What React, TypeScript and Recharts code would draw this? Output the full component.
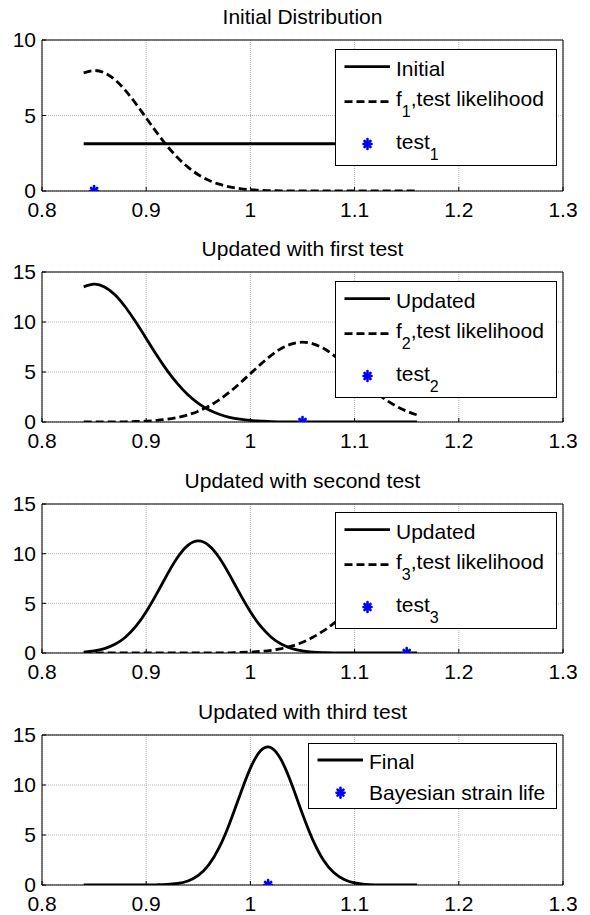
import React from 'react';
import { ComposedChart, Line, Scatter, XAxis, YAxis, CartesianGrid, Legend } from 'recharts';

// strain-life grid (x) shared by all four panels
const xs = [
  0.84, 0.85, 0.86, 0.87, 0.88, 0.89, 0.9, 0.91, 0.92, 0.93, 0.94,
  0.95, 0.96, 0.97, 0.98, 0.99, 1.0, 1.01, 1.02, 1.03, 1.04, 1.05,
  1.06, 1.07, 1.08, 1.09, 1.1, 1.11, 1.12, 1.13, 1.14, 1.15, 1.16,
];

const initialPdf = [
  3.13, 3.13, 3.13, 3.13, 3.13, 3.13, 3.13, 3.13, 3.13, 3.13, 3.13,
  3.13, 3.13, 3.13, 3.13, 3.13, 3.13, 3.13, 3.13, 3.13, 3.13, 3.13,
  3.13, 3.13, 3.13, 3.13, 3.13, 3.13, 3.13, 3.13, 3.13, 3.13, 3.13,
];
const f1 = [
  7.82, 7.98, 7.82, 7.37, 6.66, 5.79, 4.84, 3.88, 2.99, 2.22, 1.58,
  1.08, 0.71, 0.45, 0.27, 0.16, 0.09, 0.05, 0.02, 0.01, 0, 0,
  0, 0, 0, 0, 0, 0, 0, 0, 0, 0, 0,
];
const post1 = [
  13.51, 13.78, 13.51, 12.73, 11.5, 10.0, 8.36, 6.7, 5.16, 3.83, 2.73,
  1.87, 1.23, 0.78, 0.47, 0.28, 0.16, 0.09, 0.03, 0.02, 0, 0,
  0, 0, 0, 0, 0, 0, 0, 0, 0, 0, 0,
];
const f2 = [
  0, 0, 0.01, 0.01, 0.02, 0.05, 0.09, 0.16, 0.27, 0.45, 0.71,
  1.08, 1.58, 2.22, 2.99, 3.88, 4.84, 5.79, 6.66, 7.37, 7.82, 7.98,
  7.82, 7.37, 6.66, 5.79, 4.84, 3.88, 2.99, 2.22, 1.58, 1.08, 0.71,
];
const post2 = [
  0.09, 0.21, 0.44, 0.87, 1.59, 2.67, 4.15, 5.95, 7.87, 9.61, 10.84,
  11.28, 10.84, 9.61, 7.87, 5.95, 4.15, 2.67, 1.59, 0.87, 0.44, 0.21,
  0.09, 0.04, 0.01, 0, 0, 0, 0, 0, 0, 0, 0,
];
const f3 = [
  0, 0, 0, 0, 0, 0, 0, 0, 0, 0, 0,
  0, 0, 0.01, 0.02, 0.05, 0.09, 0.16, 0.27, 0.45, 0.71, 1.08,
  1.58, 2.22, 2.99, 3.88, 4.84, 5.79, 6.66, 7.37, 7.82, 7.98, 7.82,
];
const finalPdf = [
  0, 0, 0, 0, 0, 0, 0, 0.02, 0.05, 0.15, 0.4,
  0.96, 2.01, 3.73, 6.16, 9.01, 11.69, 13.45, 13.73, 12.43, 9.98, 7.1,
  4.49, 2.51, 1.25, 0.55, 0.21, 0.07, 0.02, 0, 0, 0, 0,
];

const test1 = [{ x: 0.85, y: 0 }];
const test2 = [{ x: 1.05, y: 0 }];
const test3 = [{ x: 1.15, y: 0 }];
const bayesLife = [{ x: 1.017, y: 0 }];

const xTicks = [0.8, 0.9, 1, 1.1, 1.2, 1.3];
const yTicks10 = [0, 5, 10];
const yTicks15 = [0, 5, 10, 15];

const FONT = '"Liberation Sans", Arial, Helvetica, sans-serif';
const BLUE = '#0000ff';

const Star = (props: any) => {
  const { cx, cy } = props;
  if (cx == null || cy == null) return null;
  return (
    <g stroke={BLUE} strokeWidth={2.6} strokeLinecap="round">
      <line x1={cx - 4} y1={cy} x2={cx + 4} y2={cy} />
      <line x1={cx} y1={cy - 5} x2={cx} y2={cy + 5} />
      <line x1={cx - 3} y1={cy - 3} x2={cx + 3} y2={cy + 3} />
      <line x1={cx - 3} y1={cy + 3} x2={cx + 3} y2={cy - 3} />
    </g>
  );
};

type Item = { kind: 'solid' | 'dashed' | 'star'; text: string; sub?: string; rest?: string };

const ROWS3 = { lineY: [17.7, 52.7, 95], base: [27, 57, 100] };
const ROWS2 = { lineY: [17, 49.7], base: [26, 57] };

const LegendBox = ({ w, h, items }: { w: number; h: number; items: Item[] }) => {
  const rows = items.length === 3 ? ROWS3 : ROWS2;
  return (
    <svg width={w} height={h} style={{ display: 'block', fontFamily: FONT }}>
      <rect x={0.5} y={0.5} width={w - 1} height={h - 1} fill="#fff" stroke="#000" />
      {items.map((it, i) => {
        const ly = rows.lineY[i];
        return (
          <g key={i}>
            {it.kind === 'star' ? (
              <Star cx={32.5} cy={ly} />
            ) : (
              <line
                x1={9.5}
                x2={55}
                y1={ly}
                y2={ly}
                stroke="#000"
                strokeWidth={2.8}
                strokeDasharray={it.kind === 'dashed' ? '8 4' : undefined}
              />
            )}
            <text x={61} y={rows.base[i]} fontSize={21} fill="#000">
              {it.text}
              {it.sub && (
                <tspan fontSize={16} dy={11}>
                  {it.sub}
                </tspan>
              )}
              {it.rest && (
                <tspan fontSize={21} dy={-11}>
                  {it.rest}
                </tspan>
              )}
            </text>
          </g>
        );
      })}
    </svg>
  );
};

const panels = [
  {
    title: 'Initial Distribution',
    top: 0, h: 230, mTop: 39, mBottom: 9, plotTop: 40,
    yMax: 10, yTicks: yTicks10,
    solid: initialPdf, dashed: f1, point: test1,
    legend: { left: 335, top: 49, w: 222, h: 117 },
    items: [
      { kind: 'solid', text: 'Initial' },
      { kind: 'dashed', text: 'f', sub: '1', rest: ',test likelihood' },
      { kind: 'star', text: 'test', sub: '1' },
    ] as Item[],
  },
  {
    title: 'Updated with first test',
    top: 230, h: 230, mTop: 41, mBottom: 8, plotTop: 272,
    yMax: 15, yTicks: yTicks15,
    solid: post1, dashed: f2, point: test2,
    legend: { left: 335, top: 281, w: 222, h: 117 },
    items: [
      { kind: 'solid', text: 'Updated' },
      { kind: 'dashed', text: 'f', sub: '2', rest: ',test likelihood' },
      { kind: 'star', text: 'test', sub: '2' },
    ] as Item[],
  },
  {
    title: 'Updated with second test',
    top: 460, h: 230, mTop: 43, mBottom: 7, plotTop: 504,
    yMax: 15, yTicks: yTicks15,
    solid: post2, dashed: f3, point: test3,
    legend: { left: 335, top: 512, w: 222, h: 117 },
    items: [
      { kind: 'solid', text: 'Updated' },
      { kind: 'dashed', text: 'f', sub: '3', rest: ',test likelihood' },
      { kind: 'star', text: 'test', sub: '3' },
    ] as Item[],
  },
  {
    title: 'Updated with third test',
    top: 690, h: 225, mTop: 44, mBottom: 0, plotTop: 735,
    yMax: 15, yTicks: yTicks15,
    solid: finalPdf, dashed: null as number[] | null, point: bayesLife,
    legend: { left: 308, top: 743, w: 249, h: 66 },
    items: [
      { kind: 'solid', text: 'Final' },
      { kind: 'star', text: 'Bayesian strain life' },
    ] as Item[],
  },
];

const Panel = ({ p }: { p: (typeof panels)[number] }) => {
  const rows = xs.map((x, i) => ({
    x,
    solid: p.solid[i],
    dashed: p.dashed ? p.dashed[i] : undefined,
  }));
  return (
    <>
      <div
        style={{
          position: 'absolute',
          left: 42,
          width: 521,
          top: p.plotTop - 16.7 - 17.8,
          lineHeight: '21px',
          fontSize: 21,
          textAlign: 'center',
          color: '#000',
        }}
      >
        {p.title}
      </div>
      <div style={{ position: 'absolute', left: 0, top: p.top }}>
        <ComposedChart
          width={590}
          height={p.h}
          data={rows}
          margin={{ top: p.mTop, right: 26, bottom: p.mBottom, left: 0 }}
        >
          <CartesianGrid stroke="#b4b4b4" strokeDasharray="1 1" />
          <XAxis
            type="number"
            dataKey="x"
            domain={[0.8, 1.3]}
            ticks={xTicks}
            interval={0}
            allowDataOverflow
            height={30}
            tickSize={-4}
            tickMargin={15}
            axisLine={{ stroke: '#000' }}
            tickLine={{ stroke: '#000' }}
            tick={{ fontSize: 21, fill: '#000' }}
          />
          <XAxis
            xAxisId="top"
            orientation="top"
            type="number"
            dataKey="x"
            domain={[0.8, 1.3]}
            ticks={xTicks}
            interval={0}
            height={1}
            tickSize={-4}
            tick={false}
            axisLine={{ stroke: '#000' }}
            tickLine={{ stroke: '#000' }}
          />
          <YAxis
            type="number"
            domain={[0, p.yMax]}
            ticks={p.yTicks}
            interval={0}
            allowDataOverflow
            width={42}
            tickSize={-4}
            tickMargin={10}
            axisLine={{ stroke: '#000' }}
            tickLine={{ stroke: '#000' }}
            tick={{ fontSize: 21, fill: '#000' }}
          />
          <YAxis
            yAxisId="right"
            orientation="right"
            type="number"
            domain={[0, p.yMax]}
            ticks={p.yTicks}
            interval={0}
            width={1}
            tickSize={-4}
            tick={false}
            axisLine={{ stroke: '#000' }}
            tickLine={{ stroke: '#000' }}
          />
          <Line
            type="natural"
            dataKey="solid"
            stroke="#000"
            strokeWidth={2.8}
            dot={false}
            activeDot={false}
            isAnimationActive={false}
          />
          {p.dashed && (
            <Line
              type="natural"
              dataKey="dashed"
              stroke="#000"
              strokeWidth={2.8}
              strokeDasharray="8 4"
              dot={false}
              activeDot={false}
              isAnimationActive={false}
            />
          )}
          <Scatter data={p.point} dataKey="y" shape={Star} isAnimationActive={false} />
          <Legend
            layout="horizontal"
            verticalAlign="middle"
            align="center"
            wrapperStyle={{
              left: p.legend.left,
              top: p.legend.top - p.top,
              width: p.legend.w,
              height: p.legend.h,
            }}
            content={() => <LegendBox w={p.legend.w} h={p.legend.h} items={p.items} />}
          />
        </ComposedChart>
      </div>
    </>
  );
};

export default function App() {
  return (
    <div
      style={{
        position: 'absolute',
        left: 0,
        top: 0,
        width: 590,
        height: 915,
        background: '#fff',
        fontFamily: FONT,
      }}
    >
      {panels.map((p, i) => (
        <Panel key={i} p={p} />
      ))}
    </div>
  );
}
